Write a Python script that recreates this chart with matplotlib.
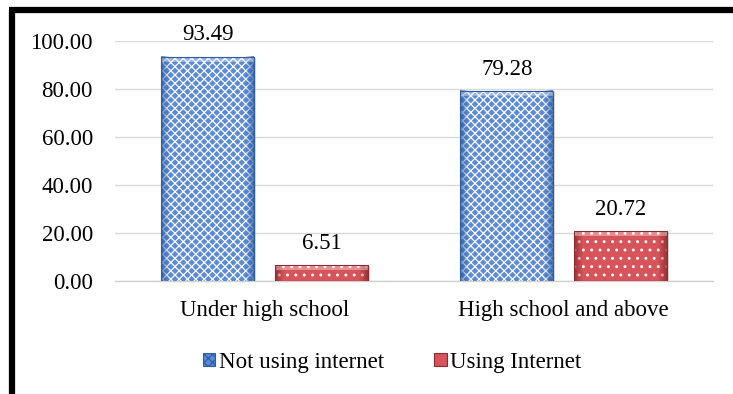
import matplotlib
matplotlib.use("Agg")
import matplotlib.pyplot as plt
from matplotlib.lines import Line2D
from matplotlib.patches import Patch
import numpy as np

categories = ["Under high school", "High school and above"]
not_using = [93.49, 79.28]
using = [6.51, 20.72]
series_names = ["Not using internet", "Using Internet"]
y_ticks = [0, 20, 40, 60, 80, 100]

plt.rcParams["font.family"] = ["Liberation Serif", "DejaVu Serif"]
plt.rcParams["hatch.linewidth"] = 0.9
plt.rcParams["hatch.color"] = "#e8f0fc"

FS = 16.5

fig = plt.figure(figsize=(7.33, 3.94), dpi=100)
ax = fig.add_axes([0.157, 0.287, 0.816, 0.609])

x = np.arange(len(categories))
w = 0.31
off = 0.19

blue_face = "#5a8ad8"
red_face = "#d6545a"

b1 = ax.bar(x - off, not_using, w, color=blue_face, hatch="xxxx",
            edgecolor="white", linewidth=0, zorder=3)
b2 = ax.bar(x + off, using, w, color=red_face, hatch="..",
            edgecolor="white", linewidth=0, zorder=3)


def bevel(rect, dark):
    """Shade the sides of a bar and add a soft drop shadow for a raised look."""
    x0, y0 = rect.get_xy()
    bw, bh = rect.get_width(), rect.get_height()
    # drop shadow
    ax.add_patch(plt.Rectangle((x0 + 0.006, y0), bw, bh - 0.4, facecolor="#9a9a9a",
                               alpha=0.35, linewidth=0, zorder=2.5))
    # horizontal gradient: dark at both sides, clear in the middle
    n = 64
    t = np.linspace(-1, 1, n)
    alpha = np.clip((np.abs(t) - 0.82) / 0.18, 0, 1) * 0.75
    img = np.zeros((1, n, 4))
    img[..., :3] = matplotlib.colors.to_rgb(dark)
    img[0, :, 3] = alpha
    ax.imshow(img, extent=(x0, x0 + bw, y0, y0 + bh), aspect="auto",
              zorder=3.5, interpolation="bilinear")
    # light band along the top edge
    top = min(2.2, bh * 0.3)
    ax.add_patch(plt.Rectangle((x0, y0 + bh - top), bw, top, facecolor="white",
                               alpha=0.35, linewidth=0, zorder=3.6))
    ax.add_patch(plt.Rectangle((x0, y0), bw, bh, fill=False, edgecolor=dark,
                               linewidth=0.8, zorder=4))


for r in b1:
    bevel(r, "#2f5c9e")
for r in b2:
    bevel(r, "#8e2a30")

for bars, vals in ((b1, not_using), (b2, using)):
    for r, v in zip(bars, vals):
        ax.annotate(f"{v:.2f}", (r.get_x() + r.get_width() / 2, v),
                    xytext=(0, 8), textcoords="offset points",
                    ha="center", va="bottom", fontsize=FS, color="black")

ax.set_xlim(-0.5, 1.5)
ax.set_ylim(0, 100)
ax.set_yticks(y_ticks)
ax.set_yticklabels([f"{t:.2f}" for t in y_ticks])
ax.set_xticks(x)
ax.set_xticklabels(categories)
ax.tick_params(axis="y", length=0, pad=16, labelsize=FS)
ax.tick_params(axis="x", length=0, pad=14, labelsize=FS)
ax.yaxis.grid(True, color="#d9d9d9", linewidth=1.0, zorder=0)
ax.set_axisbelow(True)
for s in ("top", "right", "left"):
    ax.spines[s].set_visible(False)
ax.spines["bottom"].set_color("#d0d0d0")
ax.spines["bottom"].set_linewidth(1.0)

handles = [Patch(facecolor=blue_face, hatch="xxxx", edgecolor="#2f5c9e", linewidth=0.8),
           Patch(facecolor=red_face, edgecolor="#8e2a30", linewidth=0.8)]
fig.legend(handles, series_names, loc="center", bbox_to_anchor=(0.535, 0.081),
           ncol=2, frameon=False, fontsize=FS, handlelength=0.55, handleheight=0.55,
           handletextpad=0.15, columnspacing=2.2)

# frame lines along the left and top edges
fig.add_artist(Line2D([0.0163, 0.0163], [0, 0.9745], color="black", linewidth=4.5,
                      transform=fig.transFigure, solid_capstyle="butt"))
fig.add_artist(Line2D([0.0122, 1.0], [0.9745, 0.9745], color="black", linewidth=4.5,
                      transform=fig.transFigure, solid_capstyle="butt"))

fig.savefig("out.png", dpi=100, facecolor="white")
